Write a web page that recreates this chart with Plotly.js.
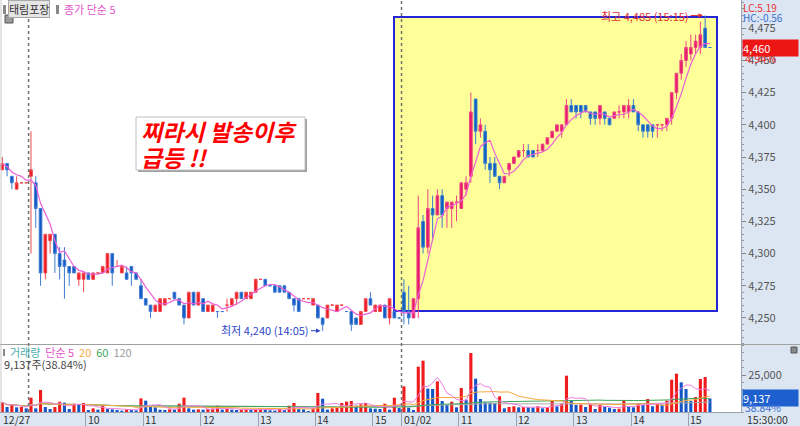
<!DOCTYPE html>
<html><head><meta charset="utf-8">
<script src="https://cdn.plot.ly/plotly-3.0.1.min.js"></script>
<style>html,body{margin:0;padding:0;background:#fff}#chart{width:800px;height:426px}</style>
</head><body><div id="chart"></div>
<script>
// ---- data (5-minute bars: 12/27 tail, 12/30, 01/02) ----
const dayLabels = ['12/27', '12/30', '01/02'];
const dayBars = [6, 78, 65];
const open = [4365,4370,4360,4350,4355,4355,4360,4355,4335,4285,4310,4315,4300,4295,4290,4290,4280,4280,4285,4280,4285,4285,4285,4300,4290,4285,4285,4290,4285,4275,4265,4260,4255,4255,4260,4265,4270,4265,4260,4250,4270,4260,4265,4255,4255,4255,4255,4260,4260,4265,4270,4265,4265,4270,4280,4280,4275,4275,4275,4275,4270,4265,4265,4265,4265,4260,4260,4250,4250,4260,4255,4260,4255,4255,4250,4245,4255,4265,4255,4255,4260,4250,4255,4250,
4270,4255,4250,4265,4325,4305,4335,4330,4345,4335,4335,4340,4335,4350,4360,4420,4395,4395,4370,4370,4360,4355,4365,4370,4375,4380,4380,4380,4380,4380,4385,4390,4395,4395,4400,4415,4415,4415,4415,4410,4410,4405,4410,4405,4405,4410,4410,4410,4415,4410,4400,4400,4400,4400,4400,4400,4405,4425,4440,4450,4455,4460,4460,4475,4460];
const high = [4375,4370,4360,4360,4355,4355,4395,4360,4335,4315,4315,4315,4305,4305,4290,4290,4285,4285,4285,4285,4285,4290,4300,4300,4295,4290,4290,4290,4285,4280,4265,4260,4260,4265,4265,4265,4270,4265,4260,4270,4270,4270,4265,4260,4260,4255,4255,4265,4265,4270,4270,4270,4270,4280,4280,4280,4275,4275,4275,4275,4270,4265,4265,4265,4265,4265,4260,4250,4260,4260,4260,4260,4255,4255,4250,4255,4265,4270,4260,4260,4260,4265,4255,4250,
4280,4275,4265,4345,4330,4350,4345,4350,4350,4340,4340,4345,4355,4360,4425,4420,4405,4400,4375,4375,4360,4360,4370,4375,4380,4385,4385,4380,4385,4385,4390,4395,4400,4400,4420,4420,4415,4415,4415,4410,4410,4415,4410,4405,4410,4415,4415,4420,4420,4410,4400,4400,4400,4400,4400,4405,4425,4440,4455,4465,4470,4470,4480,4485,4460];
const low = [4365,4360,4350,4350,4355,4355,4300,4320,4275,4280,4300,4285,4280,4265,4275,4285,4275,4270,4280,4280,4285,4285,4285,4275,4290,4285,4280,4275,4280,4265,4260,4250,4255,4255,4260,4265,4265,4260,4245,4250,4260,4260,4255,4255,4255,4250,4255,4255,4260,4260,4265,4265,4265,4270,4280,4275,4275,4270,4270,4270,4265,4255,4255,4265,4265,4260,4250,4240,4250,4260,4255,4260,4255,4240,4245,4245,4255,4260,4255,4255,4250,4245,4250,4250,
4245,4245,4250,4250,4300,4300,4310,4330,4320,4320,4320,4325,4335,4345,4355,4385,4390,4365,4355,4360,4350,4355,4360,4370,4375,4375,4375,4375,4375,4380,4385,4390,4395,4390,4400,4410,4405,4405,4410,4400,4400,4400,4400,4400,4405,4405,4405,4405,4410,4395,4390,4390,4390,4390,4395,4395,4400,4420,4435,4445,4450,4455,4455,4460,4460];
const close = [4370,4365,4355,4355,4355,4355,4365,4335,4285,4315,4315,4300,4290,4290,4285,4285,4285,4285,4280,4285,4285,4290,4300,4285,4290,4290,4280,4285,4280,4265,4260,4255,4260,4265,4265,4265,4265,4260,4250,4270,4260,4270,4255,4260,4260,4255,4255,4260,4265,4270,4265,4270,4270,4280,4280,4275,4275,4270,4270,4270,4265,4260,4255,4265,4265,4265,4250,4245,4260,4260,4260,4260,4255,4245,4245,4255,4265,4260,4260,4260,4250,4265,4250,4250,
4255,4250,4265,4320,4305,4335,4330,4345,4330,4340,4340,4340,4355,4355,4410,4395,4400,4370,4365,4360,4355,4360,4370,4375,4380,4380,4375,4375,4380,4385,4390,4395,4400,4400,4415,4410,4410,4410,4410,4405,4405,4415,4405,4400,4410,4410,4415,4415,4410,4400,4395,4395,4395,4400,4400,4405,4425,4440,4450,4460,4460,4465,4470,4460,4460];
const volume = [6530,3380,4950,3150,3380,2480,9680,2480,14860,3380,2030,3380,6980,6310,2030,5630,5400,6080,1350,2480,1580,4280,2030,1800,1350,900,2030,1350,1130,9230,7660,3380,3150,1580,1350,1800,1580,5630,9680,2480,1580,1800,1580,2030,2250,4280,1580,2030,1580,1350,1580,2030,1800,2030,2250,1350,1130,900,2030,1350,4280,6080,2030,1800,680,2480,12840,9010,1580,2480,2700,6080,6980,7430,4280,5180,6080,2480,2250,2030,5630,1580,9680,2700,
17340,2930,1350,30630,34680,15760,15540,20720,7430,4730,6980,3150,16210,8330,39860,22520,8780,6530,6310,6080,10580,2480,3380,3830,3150,3380,3150,2930,3830,2480,3150,7430,3830,5630,24550,7430,4730,4950,3380,5180,2030,4730,3380,2930,2030,2250,7660,3380,3150,5630,4730,8780,3830,5180,4950,7660,21840,25900,20040,15540,7430,10130,22290,23650,9137];
const xTickPos = [17.5, 29.5, 41.5, 53.5, 65.5, 77.5, 83.5, 95.5, 107.5, 119.5, 131.5, 143.5];
const xTickText = ['10', '11', '12', '13', '14', '15', '01/02', '11', '12', '13', '14', '15'];

// ---- derived ----
const x = close.map((_, i) => i);
function sma(arr, n) {
  return arr.map((_, i) => { const s = Math.max(0, i - n + 1); let t = 0; for (let k = s; k <= i; k++) t += arr[k]; return t / (i - s + 1); });
}
const ma5 = sma(close, 5);
const vma5 = sma(volume, 5), vma20 = sma(volume, 20), vma60 = sma(volume, 60), vma120 = sma(volume, 120);
const split = dayBars[0] + dayBars[1];
const fmt = v => Math.round(v).toLocaleString('en-US');
const last = close[close.length - 1];
const prevClose = close[split - 1];
const maxH = Math.max(...high), minL = Math.min(...low);
const iMax = high.lastIndexOf(maxH), iMin = low.indexOf(minL);
const lastVol = volume[volume.length - 1];
const volColors = volume.map((v, i) => (i === 0 || v > volume[i - 1]) ? '#ee1c1c' : '#1456c8');

const W = 800, H = 426;
const px = v => v / W, py = v => 1 - v / H;
const FONT = 'Noto Sans CJK KR, DejaVu Sans, sans-serif';

function candle(a, b, up, upLine, dn, dnLine) {
  return {type: 'candlestick', x: x.slice(a, b), open: open.slice(a, b), high: high.slice(a, b),
    low: low.slice(a, b), close: close.slice(a, b), xaxis: 'x', yaxis: 'y', whiskerwidth: 0,
    increasing: {line: {color: upLine, width: 1}, fillcolor: up},
    decreasing: {line: {color: dnLine, width: 1}, fillcolor: dn}, hoverinfo: 'skip'};
}
const traces = [
  candle(0, split, '#ec1c24', '#f0484e', '#1257c6', '#3f7bd2'),
  candle(split, close.length, '#e8196a', '#ec4683', '#0d5fc0', '#3a7fcf'),
  {type: 'scatter', mode: 'lines', x: x, y: ma5, xaxis: 'x', yaxis: 'y', line: {color: '#ec5fd6', width: 1.2}, hoverinfo: 'skip'},
  {type: 'bar', x: x, y: volume, xaxis: 'x', yaxis: 'y2', marker: {color: volColors, line: {width: 0}}, width: 0.65, hoverinfo: 'skip'},
  {type: 'scatter', mode: 'lines', x: x, y: vma120, xaxis: 'x', yaxis: 'y2', line: {color: '#aaaaaa', width: 1}, hoverinfo: 'skip'},
  {type: 'scatter', mode: 'lines', x: x, y: vma60, xaxis: 'x', yaxis: 'y2', line: {color: '#3fa55a', width: 1}, hoverinfo: 'skip'},
  {type: 'scatter', mode: 'lines', x: x, y: vma20, xaxis: 'x', yaxis: 'y2', line: {color: '#f5a93a', width: 1}, hoverinfo: 'skip'},
  {type: 'scatter', mode: 'lines', x: x, y: vma5, xaxis: 'x', yaxis: 'y2', line: {color: '#f07ee0', width: 1}, hoverinfo: 'skip'}
];

const LB = '#dce6f2';
const shapes = [
  {type: 'rect', xref: 'paper', yref: 'paper', x0: px(741), x1: 1, y0: 0, y1: 1, fillcolor: LB, line: {width: 0}, layer: 'below'},
  {type: 'rect', xref: 'paper', yref: 'paper', x0: 0, x1: 1, y0: 0, y1: py(412.5), fillcolor: LB, line: {width: 0}, layer: 'below'},
  {type: 'rect', xref: 'paper', yref: 'paper', x0: px(394), x1: px(717), y0: py(311), y1: py(17), fillcolor: '#ffff99', line: {color: '#2424d8', width: 2}, layer: 'below'},
  {type: 'line', xref: 'paper', yref: 'paper', x0: 0, x1: 1, y0: py(344.5), y1: py(344.5), line: {color: '#a0a0a0', width: 1}},
  {type: 'line', xref: 'paper', yref: 'paper', x0: px(1), x1: px(1), y0: py(412), y1: 1, line: {color: '#c8c8c8', width: 1}},
  {type: 'line', xref: 'x', yref: 'paper', x0: dayBars[0] - 0.5, x1: dayBars[0] - 0.5, y0: py(412), y1: 1, line: {color: '#707070', width: 1.5, dash: 'dot'}},
  {type: 'line', xref: 'x', yref: 'paper', x0: split - 0.5, x1: split - 0.5, y0: py(412), y1: 1, line: {color: '#707070', width: 1.5, dash: 'dot'}},
  // callout box with shadow
  {type: 'rect', xref: 'paper', yref: 'paper', x0: px(138), x1: px(307), y0: py(172), y1: py(119), fillcolor: '#a0a0a0', line: {width: 0}},
  {type: 'rect', xref: 'paper', yref: 'paper', x0: px(136), x1: px(305), y0: py(170), y1: py(117), fillcolor: '#ffffff', line: {color: '#c0c0c0', width: 1}},
  // small legend icons
  {type: 'rect', xref: 'paper', yref: 'paper', x0: px(3), x1: px(6), y0: py(14), y1: py(5), fillcolor: '#888', line: {width: 0}},
  {type: 'rect', xref: 'paper', yref: 'paper', x0: px(56), x1: px(59), y0: py(14), y1: py(5), fillcolor: '#888', line: {width: 0}},
  {type: 'rect', xref: 'paper', yref: 'paper', x0: px(5), x1: px(13), y0: py(23), y1: py(15), fillcolor: '#9a9a9a', line: {color: '#555', width: 1}},
  {type: 'rect', xref: 'paper', yref: 'paper', x0: px(3), x1: px(5), y0: py(356), y1: py(349), fillcolor: '#888', line: {width: 0}},
  {type: 'rect', xref: 'paper', yref: 'paper', x0: px(791), x1: px(797), y0: py(353), y1: py(347), fillcolor: '#888', line: {color: '#555', width: 1}}
];

const ann = [];
function t(text, xp, yp, color, opts) {
  ann.push(Object.assign({text: text, xref: 'paper', yref: 'paper', x: px(xp), y: py(yp), xanchor: 'left', yanchor: 'middle',
    showarrow: false, borderpad: 0, font: {family: FONT, size: 11, color: color}}, opts || {}));
}
// header legend
t('태림포장', 8, 9, '#333', {bgcolor: '#e4e4e4', bordercolor: '#a8a8a8', borderwidth: 1, borderpad: 0});
t('종가 단순 5', 63, 9, '#e455c8');
// big callout
t('<b><i>찌라시 발송이후</i></b>', 140, 131, '#ff0000', {font: {family: FONT, size: 23, color: '#ff0000'}});
t('<b><i>급등 !!</i></b>', 140, 157, '#ff0000', {font: {family: FONT, size: 23, color: '#ff0000'}});
// high / low markers
ann.push({text: '최고 ' + fmt(maxH) + ' (15:15)', xref: 'x', yref: 'y', x: iMax - 0.45, y: maxH, ax: -58, ay: 1,
  showarrow: true, arrowhead: 2, arrowsize: 0.9, arrowwidth: 1, arrowcolor: '#e03030', font: {family: FONT, size: 11, color: '#e03030'}});
ann.push({text: '최저 ' + fmt(minL) + ' (14:05)', xref: 'x', yref: 'y', x: iMin - 0.45, y: minL, ax: -55, ay: -1,
  showarrow: true, arrowhead: 2, arrowsize: 0.9, arrowwidth: 1, arrowcolor: '#2a44c8', font: {family: FONT, size: 11, color: '#2a44c8'}});
// right price panel labels
t('LC:' + ((last / minL - 1) * 100).toFixed(2), 742, 7, '#e53030', {font: {family: FONT, size: 10, color: '#e53030'}});
t('HC:' + ((last / maxH - 1) * 100).toFixed(2), 742, 17.5, '#3a6fd0', {font: {family: FONT, size: 10, color: '#3a6fd0'}});
ann.push({text: fmt(last), xref: 'paper', yref: 'y', x: px(741.5), y: last, xanchor: 'left', yanchor: 'middle', showarrow: false,
  bgcolor: '#ee1515', width: 55, align: 'left', borderpad: 0, font: {family: FONT, size: 11, color: '#ffffff'}});
t(((last / prevClose - 1) * 100).toFixed(2) + '%', 744, 58, '#e53030');
// volume legend
t('<span style="color:#4aaeae">거래량</span>  <span style="color:#e455c8">단순 5</span>  <span style="color:#f5a93a">20</span>  <span style="color:#3fa55a">60</span>  <span style="color:#999">120</span>', 9, 352, '#333');
t(fmt(lastVol) + '주(38.84%)', 3, 364, '#444');
ann.push({text: fmt(lastVol), xref: 'paper', yref: 'y2', x: px(741.5), y: lastVol, xanchor: 'left', yanchor: 'middle', showarrow: false,
  bgcolor: '#1d5fcf', width: 55, align: 'left', borderpad: 0, font: {family: FONT, size: 11, color: '#ffffff'}});
t('38.84%', 744, 407.5, '#3a6fd0', {font: {family: FONT, size: 10.5, color: '#3a6fd0'}});
t('15:30:00', 746, 419, '#333', {font: {family: FONT, size: 10.5, color: '#333'}});
// x labels
const xl = {family: FONT, size: 10.5, color: '#333'};
ann.push({text: dayLabels[0], xref: 'x', yref: 'paper', x: -0.48, y: py(419), xanchor: 'left', yanchor: 'middle', xshift: 2,
  showarrow: false, borderpad: 0, font: xl});
xTickPos.forEach((p, i) => ann.push({text: xTickText[i], xref: 'x', yref: 'paper', x: p, y: py(419), xanchor: 'left', yanchor: 'middle', xshift: 1,
  showarrow: false, borderpad: 0, font: xl}));

const layout = {
  width: W, height: H, margin: {l: 0, r: 0, t: 0, b: 0}, paper_bgcolor: '#ffffff', plot_bgcolor: 'rgba(0,0,0,0)',
  showlegend: false, dragmode: false, boxgap: 0.2, font: {family: FONT, size: 11, color: '#555'},
  xaxis: {domain: [0, px(741)], range: [-0.48, 154.5], anchor: 'y2', showgrid: false, zeroline: false, showline: true, linecolor: '#9aa4b0',
    ticks: 'outside', ticklen: 13, tickcolor: '#9aa4b0', tickvals: xTickPos, showticklabels: false, rangeslider: {visible: false}, fixedrange: true},
  yaxis: {domain: [py(344), 1], range: [4229.8, 4496.9], side: 'right', anchor: 'x', showgrid: false, zeroline: false, showline: true, linecolor: '#9aa4b0',
    tick0: 4250, dtick: 25, tickformat: ',d', ticks: 'outside', ticklen: 4, tickcolor: '#888', tickfont: {family: FONT, size: 11, color: '#555'},
    minor: {dtick: 5, tick0: 4250, ticks: 'outside', ticklen: 2, tickcolor: '#999', showgrid: false}, fixedrange: true},
  yaxis2: {domain: [py(412), py(345)], range: [0, 45270], side: 'right', anchor: 'x', showgrid: false, zeroline: false, showline: true, linecolor: '#9aa4b0',
    tickvals: [25000], tickformat: ',d', ticks: 'outside', ticklen: 4, tickcolor: '#888', tickfont: {family: FONT, size: 11, color: '#555'},
    minor: {dtick: 5000, ticks: 'outside', ticklen: 2, tickcolor: '#999', showgrid: false}, fixedrange: true},
  shapes: shapes, annotations: ann
};
Plotly.newPlot('chart', traces, layout, {staticPlot: true, displayModeBar: false});
</script></body></html>
